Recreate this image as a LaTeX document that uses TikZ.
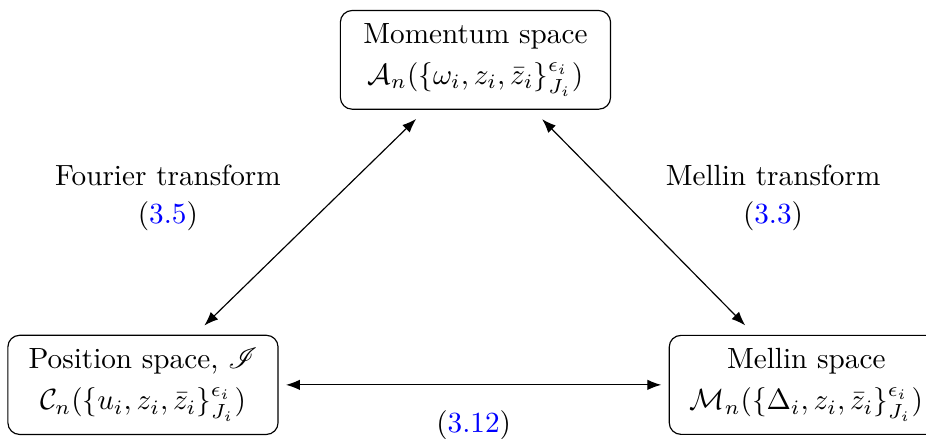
\documentclass[tikz,border=0pt]{standalone}
\usepackage{amsmath,amssymb,mathrsfs}
\usepackage{tikz}
\usetikzlibrary{arrows.meta,calc,positioning}

\begin{document}
\begin{tikzpicture}[>=Latex,
    spacebox/.style={draw,rounded corners=4pt,align=center,inner xsep=7pt,inner ysep=4.5pt,minimum width=3.25cm},
    trlabel/.style={align=center}]
    \useasboundingbox (0,0) rectangle (11.14,5.28);
    \node[spacebox] (mom) at (5.72,4.56) {Momentum space\\[2pt] $\mathcal{A}_n(\{\omega_i,z_i,\bar{z}_i\}^{\epsilon_i}_{J_i})$};
    \node[spacebox] (pos) at (1.72,0.65) {Position space, $\mathscr{I}$\\[2pt] $\mathcal{C}_n(\{u_i,z_i,\bar{z}_i\}^{\epsilon_i}_{J_i})$};
    \node[spacebox] (mel) at (9.70,0.65) {Mellin space\\[2pt] $\mathcal{M}_n(\{\Delta_i,z_i,\bar{z}_i\}^{\epsilon_i}_{J_i})$};
    \node[trlabel] (fou) at (2.02,2.90) {Fourier transform\\[1pt] (\textcolor{blue}{3.5})};
    \node[trlabel] (mtr) at (9.30,2.90) {Mellin transform\\[1pt] (\textcolor{blue}{3.3})};
    \draw[<->,shorten <=4.5pt,shorten >=4.5pt] (pos.44) -- (mom.225);
    \draw[<->,shorten <=4.5pt,shorten >=4.5pt] (mom.319) -- (mel.136);
    \draw[<->,shorten <=2.5pt,shorten >=2.5pt] (pos.east) -- (mel.west)
      node[midway,below=5.4pt] (ref) {(\textcolor{blue}{3.12})};
\end{tikzpicture}
\end{document}
